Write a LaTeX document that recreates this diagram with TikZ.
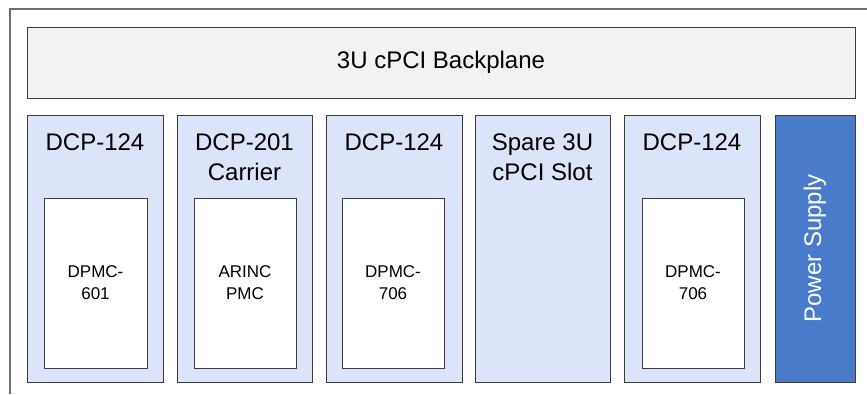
\documentclass[tikz,border=0pt]{standalone}
\usepackage{fontspec}
\setmainfont{Liberation Sans}
\definecolor{slotfill}{HTML}{DCE4FA}
\definecolor{psfill}{HTML}{4A7BCB}
\definecolor{bpfill}{HTML}{F2F2F2}
\definecolor{edge}{HTML}{3C3C3C}
\definecolor{framecol}{HTML}{6E6E6E}
\begin{document}
\begin{tikzpicture}[x=1pt,y=-1pt,
  box/.style={draw=edge,line width=0.9pt},
  slotbox/.style={box,fill=slotfill},
  pmcbox/.style={box,fill=white},
  bigtext/.style={font=\fontsize{24}{29.5}\selectfont,align=center,inner sep=0pt},
  smalltext/.style={font=\fontsize{17}{22}\selectfont,align=center,inner sep=0pt}]
\useasboundingbox (0,0) rectangle (867,394);
\draw[framecol,line width=1.2pt] (10,394) -- (10,9) -- (867,9);
% backplane
\draw[box,fill=bpfill] (27,27) rectangle (855,98);
\node[bigtext] (bp) at (441,62) {3U cPCI Backplane};
% slots
\draw[slotbox] (27,115) rectangle (163,382);
\draw[slotbox] (177,115) rectangle (312,382);
\draw[slotbox] (326,115) rectangle (462,382);
\draw[slotbox] (475,115) rectangle (610,382);
\draw[slotbox] (624,115) rectangle (760,382);
\draw[box,fill=psfill] (775,115) rectangle (855,382);
% slot titles
\node[bigtext,anchor=north] (t1) at (95,134) {DCP-124};
\node[bigtext,anchor=north] (t2) at (244.5,134) {DCP-201\\Carrier};
\node[bigtext,anchor=north] (t3) at (394,134) {DCP-124};
\node[bigtext,anchor=north] (t4) at (542.5,134) {Spare 3U\\cPCI Slot};
\node[bigtext,anchor=north] (t5) at (692,134) {DCP-124};
\node[bigtext,text=white,rotate=90] (ps) at (815,248.5) {Power Supply};
% PMC boxes
\draw[pmcbox] (44,198) rectangle (147,368);
\draw[pmcbox] (194,198) rectangle (296,368);
\draw[pmcbox] (342,198) rectangle (444,368);
\draw[pmcbox] (642,198) rectangle (744,368);
\node[smalltext] (p1) at (95.5,283) {DPMC-\\601};
\node[smalltext] (p2) at (245,283) {ARINC\\PMC};
\node[smalltext] (p3) at (393,283) {DPMC-\\706};
\node[smalltext] (p5) at (693,283) {DPMC-\\706};
\end{tikzpicture}
\end{document}
